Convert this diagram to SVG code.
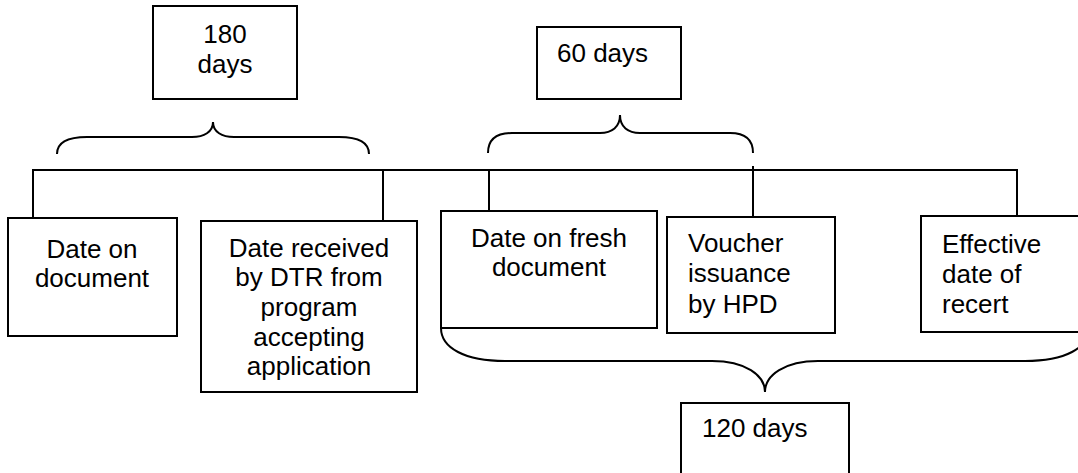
<svg xmlns="http://www.w3.org/2000/svg" width="1078" height="473" viewBox="0 0 1078 473">
<style>
.box{fill:#fff;stroke:#000;stroke-width:2}
.ln{fill:none;stroke:#000;stroke-width:2}
.t{font-family:"Liberation Sans",Arial,sans-serif;font-size:26px;fill:#000}
.c{text-anchor:middle}
</style>
<rect width="1078" height="473" fill="#fff"/>
<g id="connectors">
<path class="ln" d="M33,218 V170 H1017 V216"/>
<path class="ln" d="M383,170 V221"/>
<path class="ln" d="M489,170 V211"/>
<path class="ln" d="M753,166 V217"/>
<path class="ln" d="M57,154 C57,142 68,137 87,137 L192,137 C204,137 213,132 213,122 C213,132 222,137 234,137 L339,137 C358,137 369,142 369,154"/>
<path class="ln" d="M488,153 C488,140 496,133 512,133 L600,133 C612,133 620,127 620,115 C620,127 628,133 640,133 L730,133 C745,133 753,140 753,153"/>
<path class="ln" d="M441,328 C441,348 465,361 505,361 L712,361 C745,361 765,375 765,392 C765,375 785,361 818,361 L1025,361 C1065,361 1089,348 1089,328"/>
</g>
<g id="n180">
<rect class="box" x="153" y="6" width="144" height="93"/>
<text class="t c" x="225" y="43">180</text>
<text class="t c" x="225" y="73">days</text>
</g>
<g id="n60">
<rect class="box" x="537" y="27" width="144" height="72"/>
<text class="t" x="557" y="62">60 days</text>
</g>
<g id="n120">
<rect class="box" x="681" y="403" width="168" height="90"/>
<text class="t" x="702" y="437">120 days</text>
</g>
<g id="dateDoc">
<rect class="box" x="8" y="218" width="169" height="118"/>
<text class="t c" x="92" y="258">Date on</text>
<text class="t c" x="92" y="287">document</text>
</g>
<g id="dateReceived">
<rect class="box" x="201" y="221" width="216" height="171"/>
<text class="t c" x="309" y="257">Date received</text>
<text class="t c" x="309" y="286">by DTR from</text>
<text class="t c" x="309" y="316">program</text>
<text class="t c" x="309" y="346">accepting</text>
<text class="t c" x="309" y="375">application</text>
</g>
<g id="dateFresh">
<rect class="box" x="441" y="211" width="216" height="117"/>
<text class="t c" x="549" y="247">Date on fresh</text>
<text class="t c" x="549" y="276">document</text>
</g>
<g id="voucher">
<rect class="box" x="667" y="217" width="168" height="116"/>
<text class="t" x="688" y="252">Voucher</text>
<text class="t" x="688" y="282">issuance</text>
<text class="t" x="688" y="313">by HPD</text>
</g>
<g id="effective">
<rect class="box" x="921" y="216" width="170" height="116"/>
<text class="t" x="942" y="253">Effective</text>
<text class="t" x="942" y="283">date of</text>
<text class="t" x="942" y="313">recert</text>
</g>
</svg>
